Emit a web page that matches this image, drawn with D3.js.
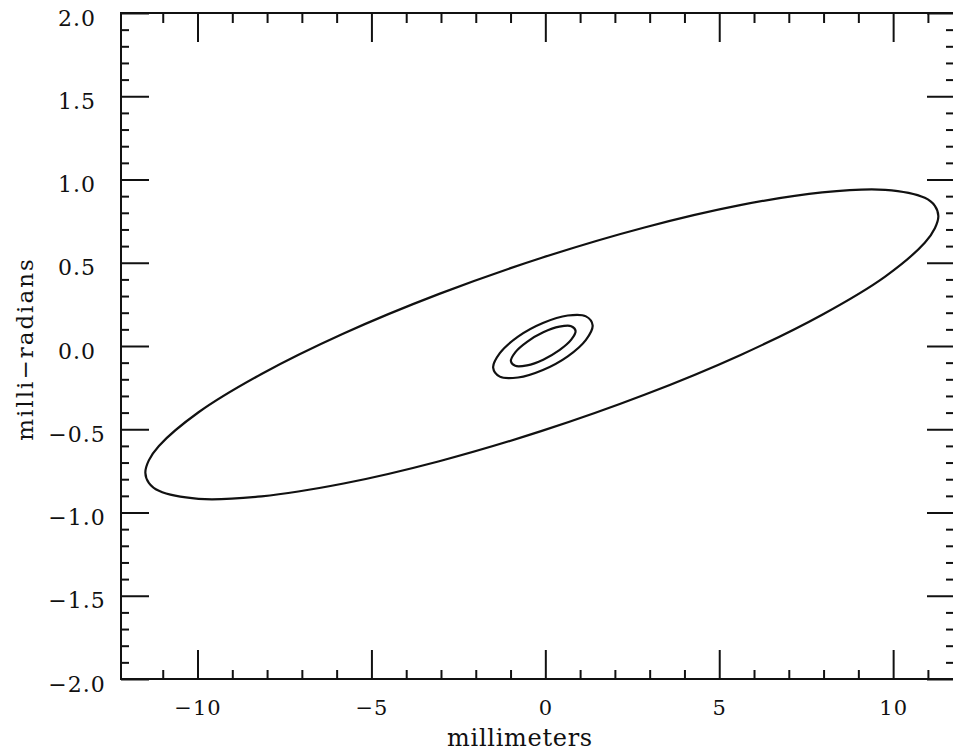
<!DOCTYPE html>
<html>
<head>
<meta charset="utf-8">
<script src="https://cdn.jsdelivr.net/npm/d3@7"></script>
<style>
  html, body { margin: 0; padding: 0; background: #fff; }
  svg { display: block; }
  .tick text { font-family: "DejaVu Serif", serif; fill: #111; }
</style>
</head>
<body>
<svg id="chart" width="953" height="752"></svg>
<script>
// ---- data ----
const xMajorTicks = [-10, -5, 0, 5, 10];
const xTickLabels = ["\u221210", "\u22125", "0", "5", "10"];
const yMajorTicks = [-2.0, -1.5, -1.0, -0.5, 0.0, 0.5, 1.0, 1.5, 2.0];
const yTickLabels = ["\u22122.0", "\u22121.5", "\u22121.0", "\u22120.5", "0.0", "0.5", "1.0", "1.5", "2.0"];
const xTitle = "millimeters";
const yTitle = "milli\u2212radians";

// outer (large) contour: x in mm, y in mrad
const outerX = [11.30, 11.20, 10.91, 9.77, 7.96, 5.60, 2.85, -0.10, -3.05, -5.80, -8.16, -9.97, -11.11, -11.40, -11.50, -11.40, -11.11, -9.97, -8.16, -5.80, -3.05, -0.10, 2.85, 5.60, 7.96, 9.77, 10.91, 11.20];
const outerY = [0.781, 0.842, 0.890, 0.938, 0.923, 0.846, 0.712, 0.530, 0.313, 0.075, -0.168, -0.398, -0.600, -0.687, -0.761, -0.822, -0.870, -0.918, -0.903, -0.826, -0.692, -0.510, -0.293, -0.055, 0.188, 0.417, 0.620, 0.707];

// middle contour
const middleX = [1.36, 1.168, 0.645, -0.07, -0.785, -1.308, -1.50, -1.308, -0.785, -0.07, 0.645, 1.168];
const middleY = [0.124, 0.178, 0.183, 0.138, 0.056, -0.043, -0.130, -0.184, -0.189, -0.144, -0.062, 0.037];

// inner contour
const innerX = [0.87, 0.745, 0.405, -0.06, -0.525, -0.865, -0.99, -0.865, -0.525, -0.06, 0.405, 0.745];
const innerY = [0.091, 0.119, 0.116, 0.082, 0.025, -0.038, -0.091, -0.119, -0.116, -0.082, -0.025, 0.038];

// ---- layout ----
const svg = d3.select("#chart");
const mLeft = 121, mRight = 954, mTop = 13, mBottom = 679;
const x = d3.scaleLinear().domain([-12.2, 11.75]).range([mLeft, mRight]);
const y = d3.scaleLinear().domain([-2, 2]).range([mBottom, mTop]);

const xMinor = d3.range(-11, 12, 1).filter(v => v % 5 !== 0);
const yMinor = d3.range(-19, 20, 1).filter(v => v % 5 !== 0).map(v => v / 10);

const ink = "#111";

function styleAxis(g) {
  g.select(".domain").remove();
  g.selectAll(".tick line").attr("stroke", ink).attr("stroke-width", 2);
}

// bottom
svg.append("g").attr("transform", `translate(0,${mBottom})`)
  .call(d3.axisBottom(x).tickValues(xMinor).tickSize(-9).tickFormat(""))
  .call(styleAxis);
svg.append("g").attr("transform", `translate(0,${mBottom})`)
  .call(d3.axisBottom(x).tickValues(xMajorTicks).tickSize(-29).tickPadding(21)
        .tickFormat((d, i) => xTickLabels[i]))
  .call(styleAxis)
  .call(g => g.selectAll(".tick text").attr("font-size", 21).attr("letter-spacing", 1));

// top
svg.append("g").attr("transform", `translate(0,${mTop})`)
  .call(d3.axisTop(x).tickValues(xMinor).tickSize(-10).tickFormat(""))
  .call(styleAxis);
svg.append("g").attr("transform", `translate(0,${mTop})`)
  .call(d3.axisTop(x).tickValues(xMajorTicks).tickSize(-29).tickFormat(""))
  .call(styleAxis);

// left
svg.append("g").attr("transform", `translate(${mLeft},0)`)
  .call(d3.axisLeft(y).tickValues(yMinor).tickSize(-8).tickFormat(""))
  .call(styleAxis);
svg.append("g").attr("transform", `translate(${mLeft},0)`)
  .call(d3.axisLeft(y).tickValues(yMajorTicks).tickSize(-28).tickPadding(10)
        .tickFormat((d, i) => yTickLabels[i]))
  .call(styleAxis)
  .call(g => g.selectAll(".tick text")
    .attr("font-size", 22).attr("letter-spacing", 1)
    .attr("text-anchor", "middle").attr("x", -44).attr("dy", "0.55em"));

// right
svg.append("g").attr("transform", `translate(${mRight},0)`)
  .call(d3.axisRight(y).tickValues(yMinor).tickSize(-8).tickFormat(""))
  .call(styleAxis);
svg.append("g").attr("transform", `translate(${mRight},0)`)
  .call(d3.axisRight(y).tickValues(yMajorTicks).tickSize(-27).tickFormat(""))
  .call(styleAxis);

// frame
svg.append("rect")
  .attr("x", mLeft).attr("y", mTop)
  .attr("width", mRight - mLeft).attr("height", mBottom - mTop)
  .attr("fill", "none").attr("stroke", ink).attr("stroke-width", 2);

// contours
const line = d3.line()
  .x(d => x(d[0])).y(d => y(d[1]))
  .curve(d3.curveCatmullRomClosed.alpha(0.5));

[[outerX, outerY], [middleX, middleY], [innerX, innerY]].forEach(([xs, ys]) => {
  svg.append("path")
    .datum(xs.map((v, i) => [v, ys[i]]))
    .attr("d", line)
    .attr("fill", "none")
    .attr("stroke", ink)
    .attr("stroke-width", 2.2)
    .attr("stroke-linejoin", "round");
});

// axis titles
svg.append("text")
  .attr("x", 520).attr("y", 746)
  .attr("text-anchor", "middle")
  .attr("font-family", "DejaVu Serif, serif")
  .attr("font-size", 24)
  .attr("letter-spacing", 0.7)
  .attr("fill", ink)
  .text(xTitle);

svg.append("text")
  .attr("transform", `translate(33,349) rotate(-90)`)
  .attr("text-anchor", "middle")
  .attr("font-family", "DejaVu Serif, serif")
  .attr("font-size", 23)
  .attr("letter-spacing", 2)
  .attr("fill", ink)
  .text(yTitle);
</script>
</body>
</html>
